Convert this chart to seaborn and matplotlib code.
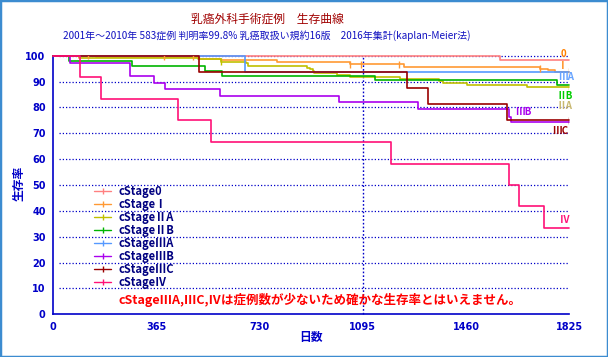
import matplotlib
matplotlib.use("Agg")
import matplotlib.pyplot as plt
import seaborn as sns
import pandas as pd
from matplotlib.lines import Line2D
from matplotlib.patches import Rectangle

# ---------------- data ----------------
stages = ["cStage0", "cStageⅠ", "cStageⅡA", "cStageⅡB",
          "cStageⅢA", "cStageⅢB", "cStageⅢC", "cStageⅣ"]
short_labels = ["0", "Ⅰ", "ⅡA", "ⅡB", "ⅢA", "ⅢB", "ⅢC", "Ⅳ"]

stage0_days = [0, 1581, 1825]
stage0_surv = [100, 98.2, 98.2]
stage1_days = [0, 150, 515, 594, 792, 1051, 1241, 1721, 1750, 1776, 1825]
stage1_surv = [100, 99.5, 98.8, 98.2, 97.6, 96.6, 95.5, 95.0, 94.3, 93.8, 93.8]
stage2a_days = [0, 92, 513, 594, 680, 687, 896, 908, 917, 923, 1002, 1049,
                1226, 1363, 1377, 1464, 1675, 1825]
stage2a_surv = [100, 99.2, 98.8, 97.6, 97.0, 96.0, 95.4, 94.7, 94.1, 93.4,
                92.5, 91.9, 91.0, 90.3, 89.3, 88.7, 87.9, 87.9]
stage2b_days = [0, 57, 279, 537, 598, 1139, 1781, 1825]
stage2b_surv = [100, 97.8, 96.0, 94.0, 92.1, 90.6, 88.7, 88.7]
stage3a_days = [0, 679, 1825]
stage3a_surv = [100, 93.75, 93.75]
stage3b_days = [0, 59, 271, 357, 395, 591, 1012, 1291, 1612, 1620, 1825]
stage3b_surv = [100, 97.1, 92.1, 89.4, 87.1, 84.3, 82.1, 79.3, 76.4, 74.4, 74.4]
stage3c_days = [0, 516, 1252, 1326, 1605, 1825]
stage3c_surv = [100, 93.75, 87.5, 81.25, 75.0, 75.0]
stage4_days = [0, 95, 170, 442, 559, 1195, 1612, 1648, 1734, 1825]
stage4_surv = [100, 91.7, 83.3, 75.0, 66.7, 58.3, 50.0, 41.7, 33.3, 33.3]

# censor marks (days)
stage1_censor = [124, 392, 495, 1051, 1087, 1224, 1721, 1825]
stage2a_censor = [594, 1825]
stage3c_censor = [1825]

# label positions near line ends (day, value)
label_days = [1803, 1803, 1809, 1809, 1813, 1662, 1792, 1809]
label_vals = [100.5, 96.0, 80.7, 84.6, 91.9, 78.2, 70.9, 36.5]

xticks = [0, 365, 730, 1095, 1460, 1825]
yticks = list(range(0, 101, 10))

line_colors = ["#FF8080", "#FF9933", "#C0C000", "#00B400",
               "#5599FF", "#AA00EE", "#990000", "#FF1177"]
label_colors = ["#FF8000", "#FF8C1A", "#C8B870", "#00CC00",
                "#66A3FF", "#AA00EE", "#990000", "#FF1177"]

all_days = [stage0_days, stage1_days, stage2a_days, stage2b_days,
            stage3a_days, stage3b_days, stage3c_days, stage4_days]
all_surv = [stage0_surv, stage1_surv, stage2a_surv, stage2b_surv,
            stage3a_surv, stage3b_surv, stage3c_surv, stage4_surv]

rows = []
for st, ds, ss in zip(stages, all_days, all_surv):
    for d, s in zip(ds, ss):
        rows.append({"stage": st, "day": d, "surv": s})
df = pd.DataFrame(rows)


def surv_at(days, survs, t):
    v = survs[0]
    for d, s in zip(days, survs):
        if d <= t:
            v = s
    return v


crows = []
for idx, cens in [(1, stage1_censor), (2, stage2a_censor), (6, stage3c_censor)]:
    for c in cens:
        crows.append({"stage": stages[idx], "day": c,
                      "surv": surv_at(all_days[idx], all_surv[idx], c)})
cdf = pd.DataFrame(crows)

# ---------------- style ----------------
sns.set_theme(style="white")
plt.rcParams["font.family"] = ["Noto Sans CJK JP", "DejaVu Sans"]
blue = "#0000C8"

fig = plt.figure(figsize=(6.08, 3.57), dpi=100)
W, H = 608, 357
ax = fig.add_axes([53.3 / W, 1 - 314.3 / H, (569.3 - 53.3) / W, (314.3 - 55.7) / H])
ax.set_facecolor("white")

# grid
for y in yticks[1:]:
    ax.axhline(y, xmin=0.012, xmax=1.0, color=blue, ls=(0, (1, 1.6)), lw=0.9, zorder=1)
ax.axvline(1095, color=blue, ls=(0, (1.2, 1.5)), lw=1.0, zorder=1)

palette = dict(zip(stages, line_colors))
sns.lineplot(data=df, x="day", y="surv", hue="stage", hue_order=stages,
             palette=palette, drawstyle="steps-post", estimator=None,
             sort=False, lw=1.2, legend=False, ax=ax, zorder=3)
for ln in ax.get_lines():
    ln.set_clip_on(False)
sns.scatterplot(data=cdf, x="day", y="surv", hue="stage", palette=palette,
                marker="|", s=25, linewidth=1.0, legend=False, ax=ax, zorder=4)

ax.set_xlim(0, 1825)
ax.set_ylim(0, 100)
ax.set_xticks(xticks)
ax.set_yticks(yticks)
for s in ["top", "right"]:
    ax.spines[s].set_visible(False)
for s in ["left", "bottom"]:
    ax.spines[s].set_color(blue)
    ax.spines[s].set_linewidth(1.2)
ax.tick_params(axis="both", direction="out", length=4, width=1.0, color=blue,
               labelcolor=blue, labelsize=7, pad=1.5)
for t in ax.get_xticklabels() + ax.get_yticklabels():
    t.set_fontweight("bold")
    t.set_family("DejaVu Sans")

ax.set_xlabel("")
ax.set_ylabel("")
fig.text(311 / W, 1 - 338 / H, "日数", color=blue, fontsize=8.5, fontweight="bold",
         ha="center", va="center")
fig.text(19 / W, 1 - 183 / H, "生存率", color=blue, fontsize=8.5, fontweight="bold",
         ha="center", va="center", rotation=90)

# titles
fig.text(267 / W, 1 - 19 / H, "乳癌外科手術症例　生存曲線", color="#A00000",
         fontsize=8.5, ha="center", va="center")
fig.text(267 / W, 1 - 36 / H,
         "2001年～2010年 583症例 判明率99.8% 乳癌取扱い規約16版　2016年集計(kaplan-Meier法)",
         color="#1010C0", fontsize=7.2, ha="center", va="center")

# right labels
for lab, d, v, c in zip(short_labels, label_days, label_vals, label_colors):
    ax.text(d, v, lab, color=c, fontsize=7, fontweight="bold", ha="center",
            va="center", clip_on=False)

# note
fig.text(320 / W, 1 - 300 / H,
         "cStageⅢA,ⅢC,Ⅳは症例数が少ないため確かな生存率とはいえません。",
         color="#FF0000", fontsize=9, fontweight="bold", ha="center", va="center")

# legend
handles = [Line2D([], [], color=c, lw=1.0, marker="|", markersize=5) for c in line_colors]
leg = ax.legend(handles, stages, loc="upper left", bbox_to_anchor=(94 / W, 1 - 185 / H),
                bbox_transform=fig.transFigure, frameon=False, numpoints=1,
                prop={"family": ["Noto Sans CJK JP", "DejaVu Sans"], "weight": "bold", "size": 8},
                handlelength=1.55, handletextpad=0.65, labelspacing=0.0,
                borderpad=0, borderaxespad=0)
for t in leg.get_texts():
    t.set_color("#000080")

fig.patches.append(Rectangle((0, 0), 1, 1, transform=fig.transFigure, fill=False,
                             edgecolor="#3C8CD0", lw=2.5))

fig.savefig("out.png", dpi=100)
